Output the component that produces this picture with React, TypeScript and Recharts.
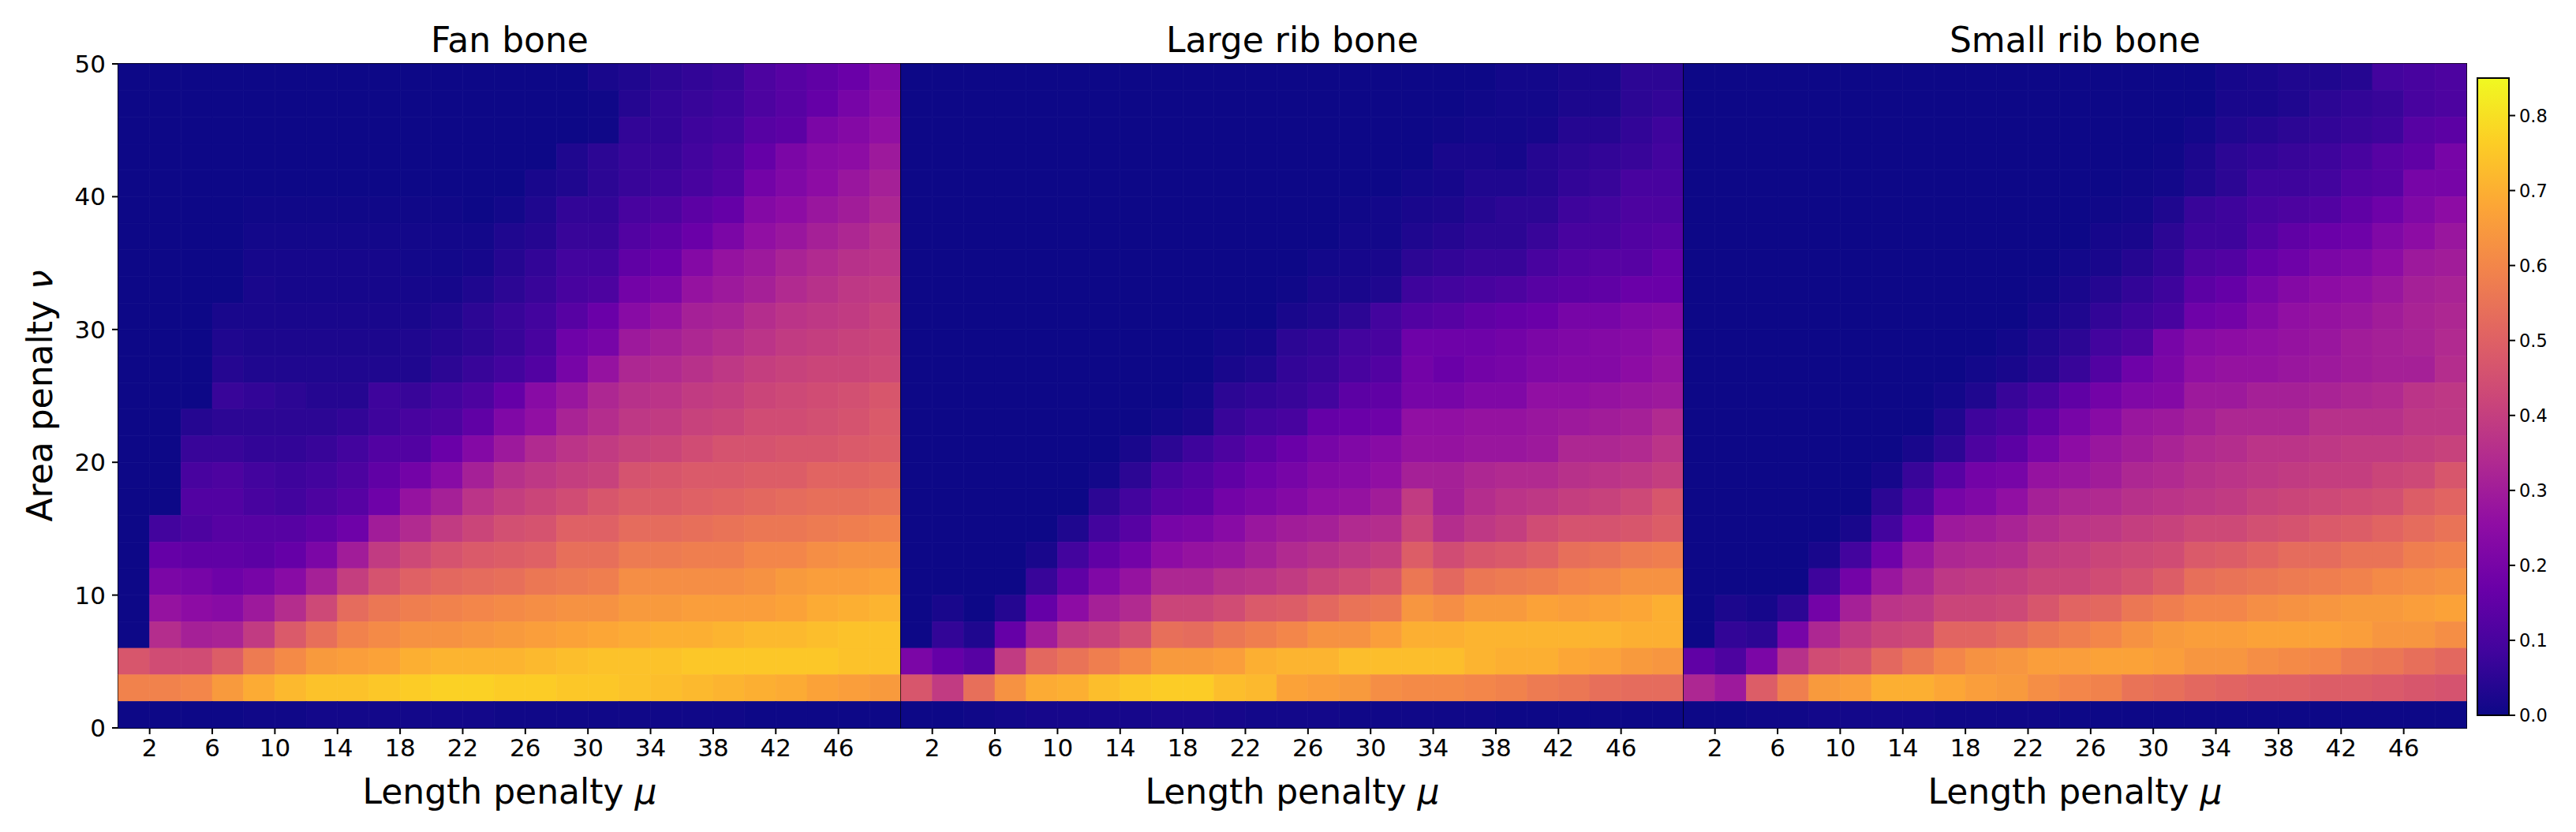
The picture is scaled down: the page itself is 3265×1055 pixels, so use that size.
import { Bar, BarChart, Label, ReferenceArea, Scatter, ScatterChart, XAxis, YAxis } from "recharts";

// rows run from the top of the plot (nu 48-50) down to the bottom (nu 0-2), 25 cells per row
const fanBone = [
  [0,0,0,0,0,0,0,0,0,0,0,0,0,0,0,.02,.03,.05,.06,.07,.11,.13,.15,.17,.22],
  [0,0,0,0,0,0,0,0,0,0,0,0,0,0,0,.005,.04,.06,.07,.08,.11,.13,.16,.2,.24],
  [0,0,0,0,0,0,0,0,0,0,0,0,0,0,0,.005,.06,.06,.08,.09,.13,.14,.21,.23,.26],
  [0,0,0,0,0,0,0,0,0,0,0,0,0,0,.03,.05,.07,.07,.09,.11,.16,.21,.24,.25,.29],
  [0,0,0,0,0,0,0,0,0,0,0,0,0,.02,.03,.05,.07,.08,.1,.12,.19,.22,.25,.28,.31],
  [0,0,0,0,.005,.005,.005,.005,.005,.005,.005,0,.01,.03,.06,.06,.1,.11,.14,.16,.23,.25,.28,.3,.33],
  [0,0,0,0,.01,.01,.01,.01,.01,.01,.01,.01,.03,.04,.07,.07,.12,.14,.17,.21,.26,.28,.31,.33,.36],
  [0,0,0,0,.015,.015,.015,.015,.015,.01,.01,.015,.04,.06,.09,.09,.15,.17,.23,.27,.29,.32,.34,.36,.37],
  [0,0,0,0,.02,.015,.015,.015,.015,.015,.015,.03,.05,.07,.1,.11,.19,.21,.27,.29,.31,.34,.36,.38,.39],
  [0,0,0,.02,.02,.02,.02,.02,.02,.02,.03,.05,.07,.09,.13,.17,.24,.27,.31,.32,.35,.37,.38,.39,.41],
  [0,0,0,.03,.025,.025,.025,.025,.025,.03,.04,.05,.07,.1,.18,.2,.29,.31,.33,.35,.37,.39,.4,.41,.42],
  [0,0,0,.04,.03,.03,.03,.03,.03,.03,.05,.07,.09,.12,.2,.27,.33,.34,.36,.38,.4,.41,.42,.42,.43],
  [0,0,0,.07,.06,.05,.04,.04,.08,.07,.09,.11,.16,.24,.28,.33,.36,.37,.39,.4,.42,.43,.44,.45,.47],
  [0,0,.04,.05,.05,.05,.05,.06,.08,.1,.11,.15,.22,.26,.32,.35,.38,.39,.41,.42,.44,.44,.45,.46,.48],
  [0,0,.07,.07,.06,.06,.07,.09,.12,.12,.17,.23,.29,.34,.37,.39,.41,.42,.44,.46,.46,.47,.47,.48,.49],
  [0,0,.1,.11,.09,.08,.09,.11,.15,.19,.24,.31,.36,.38,.4,.41,.46,.47,.48,.48,.49,.49,.51,.51,.52],
  [0,0,.12,.12,.1,.09,.11,.13,.18,.27,.31,.37,.4,.42,.44,.47,.49,.49,.5,.51,.52,.53,.54,.54,.55],
  [0,.09,.11,.13,.13,.13,.15,.18,.3,.34,.39,.42,.45,.46,.5,.5,.53,.53,.54,.55,.56,.56,.57,.58,.59],
  [0,.16,.15,.15,.14,.16,.21,.3,.39,.43,.46,.48,.49,.5,.54,.54,.57,.57,.58,.58,.6,.6,.62,.63,.63],
  [0,.21,.2,.18,.2,.24,.31,.4,.46,.5,.52,.53,.54,.56,.57,.58,.62,.62,.62,.62,.63,.65,.66,.66,.67],
  [0,.27,.25,.24,.29,.35,.43,.53,.56,.58,.59,.6,.61,.62,.63,.63,.65,.65,.66,.66,.66,.67,.69,.7,.71],
  [0,.35,.31,.32,.39,.48,.54,.59,.61,.63,.63,.64,.65,.66,.67,.68,.69,.7,.7,.71,.72,.72,.73,.74,.74],
  [.47,.44,.44,.49,.57,.61,.65,.66,.67,.7,.71,.71,.71,.72,.73,.74,.74,.74,.75,.75,.75,.75,.75,.74,.74],
  [.59,.59,.6,.65,.69,.72,.74,.74,.75,.76,.77,.77,.76,.76,.75,.75,.74,.73,.72,.71,.7,.69,.67,.66,.65],
  [0,0,0,0,.005,.005,.01,.01,.01,.01,.01,.01,.005,.005,.005,.005,.005,.005,.005,.005,0,0,0,0,0],
];

const largeRibBone = [
  [0,0,0,0,0,0,0,0,0,0,0,0,0,0,0,0,0,0,0,.01,.01,.02,.02,.05,.05],
  [0,0,0,0,0,0,0,0,0,0,0,0,0,0,0,0,0,0,.005,.01,.01,.025,.025,.05,.06],
  [0,0,0,0,0,0,0,0,0,0,0,0,0,0,0,0,0,.005,.01,.01,.015,.04,.04,.06,.08],
  [0,0,0,0,0,0,0,0,0,0,0,0,0,0,0,0,0,.02,.02,.015,.04,.05,.06,.07,.09],
  [0,0,0,0,0,0,0,0,0,0,0,0,0,0,0,0,.01,.015,.03,.03,.04,.06,.07,.1,.1],
  [0,0,0,0,0,0,0,0,0,0,0,0,0,0,.005,.01,.02,.025,.04,.05,.05,.08,.09,.11,.11],
  [0,0,0,0,0,0,0,0,0,0,0,0,0,0,.01,.01,.03,.04,.05,.05,.07,.1,.1,.12,.13],
  [0,0,0,0,0,0,0,0,0,0,0,0,0,.01,.015,.02,.05,.06,.07,.07,.1,.12,.13,.13,.16],
  [0,0,0,0,0,0,0,0,0,0,0,0,.005,.02,.02,.03,.08,.09,.1,.11,.13,.14,.15,.17,.17],
  [0,0,0,0,0,0,0,0,0,0,0,0,.02,.03,.05,.09,.12,.13,.15,.16,.17,.2,.2,.22,.23],
  [0,0,0,0,0,0,0,0,0,0,.01,.015,.05,.06,.09,.1,.18,.18,.18,.19,.21,.22,.23,.24,.26],
  [0,0,0,0,0,0,0,0,0,0,.02,.03,.06,.07,.1,.12,.19,.17,.19,.2,.22,.23,.23,.25,.27],
  [0,0,0,0,0,0,0,0,0,.01,.05,.06,.07,.09,.14,.15,.2,.2,.22,.22,.26,.26,.27,.28,.29],
  [0,0,0,0,0,0,0,0,.01,.02,.07,.09,.1,.16,.17,.18,.26,.26,.27,.27,.28,.29,.3,.31,.34],
  [0,0,0,0,0,0,0,.02,.05,.08,.11,.14,.17,.2,.22,.24,.27,.27,.28,.28,.29,.33,.33,.34,.37],
  [0,0,0,0,0,0,.01,.05,.1,.12,.15,.18,.2,.23,.24,.26,.31,.31,.33,.34,.34,.36,.37,.38,.4],
  [0,0,0,0,0,0,.05,.09,.13,.14,.19,.21,.23,.26,.27,.3,.39,.31,.35,.37,.38,.4,.41,.43,.47],
  [0,0,0,0,0,.03,.09,.13,.2,.21,.24,.28,.3,.31,.34,.35,.42,.35,.38,.4,.44,.46,.46,.47,.49],
  [0,0,0,0,.02,.09,.15,.19,.25,.27,.28,.31,.34,.36,.38,.4,.49,.44,.47,.48,.5,.54,.55,.57,.58],
  [0,0,0,0,.07,.15,.22,.27,.33,.33,.36,.37,.39,.42,.44,.47,.56,.52,.56,.57,.58,.6,.61,.63,.63],
  [0,.02,0,.04,.16,.25,.31,.34,.42,.42,.44,.48,.49,.52,.55,.56,.64,.62,.65,.65,.67,.66,.67,.68,.7],
  [0,.06,.03,.16,.3,.39,.41,.45,.54,.53,.56,.58,.6,.63,.63,.66,.7,.7,.71,.71,.71,.71,.71,.7,.7],
  [.21,.16,.13,.39,.52,.55,.58,.61,.65,.65,.66,.7,.71,.71,.73,.73,.73,.73,.71,.7,.7,.68,.67,.65,.64],
  [.47,.39,.54,.63,.69,.7,.73,.75,.76,.76,.73,.72,.67,.66,.65,.62,.61,.61,.6,.59,.57,.56,.54,.53,.53],
  [0,0,.005,.01,.015,.015,.015,.015,.02,.02,.015,.01,.01,.01,.005,.005,.005,.005,.005,0,0,0,0,0,0],
];

const smallRibBone = [
  [0,0,0,0,0,0,0,0,0,0,0,0,0,0,0,0,0,.015,.02,.03,.03,.04,.09,.1,.11],
  [0,0,0,0,0,0,0,0,0,0,0,0,0,0,0,0,0,.02,.02,.03,.05,.06,.07,.1,.11],
  [0,0,0,0,0,0,0,0,0,0,0,0,0,0,0,0,.01,.03,.04,.05,.06,.07,.08,.13,.14],
  [0,0,0,0,0,0,0,0,0,0,0,0,0,0,0,.005,.025,.05,.06,.07,.08,.1,.13,.15,.2],
  [0,0,0,0,0,0,0,0,0,0,0,0,0,0,.005,.01,.03,.05,.08,.08,.09,.12,.13,.2,.2],
  [0,0,0,0,0,0,0,0,0,0,0,0,0,.005,.01,.03,.07,.08,.1,.11,.12,.15,.18,.22,.25],
  [0,0,0,0,0,0,0,0,0,0,0,0,0,.015,.02,.05,.08,.08,.12,.15,.17,.18,.22,.25,.28],
  [0,0,0,0,0,0,0,0,0,0,0,0,.01,.02,.04,.06,.11,.12,.16,.18,.21,.22,.25,.29,.3],
  [0,0,0,0,0,0,0,0,0,0,0,.005,.02,.04,.06,.08,.14,.16,.2,.23,.25,.26,.28,.31,.32],
  [0,0,0,0,0,0,0,0,0,0,0,.015,.03,.06,.08,.1,.18,.19,.23,.26,.27,.28,.3,.32,.33],
  [0,0,0,0,0,0,0,0,0,0,.01,.03,.05,.09,.11,.2,.24,.25,.26,.27,.28,.3,.31,.32,.34],
  [0,0,0,0,0,0,0,0,0,.01,.02,.04,.07,.12,.18,.21,.26,.27,.27,.28,.29,.3,.31,.31,.35],
  [0,0,0,0,0,0,0,0,.01,.03,.07,.1,.15,.19,.22,.23,.29,.29,.31,.31,.32,.33,.34,.37,.38],
  [0,0,0,0,0,0,0,0,.03,.08,.1,.15,.2,.24,.28,.29,.31,.33,.33,.33,.36,.36,.36,.38,.38],
  [0,0,0,0,0,0,0,.02,.05,.11,.14,.2,.25,.28,.3,.32,.34,.35,.37,.37,.38,.39,.39,.4,.41],
  [0,0,0,0,0,0,.015,.07,.13,.19,.2,.27,.28,.3,.33,.34,.36,.37,.38,.39,.4,.4,.42,.43,.47],
  [0,0,0,0,0,0,.05,.11,.2,.22,.26,.31,.33,.34,.36,.37,.38,.39,.41,.42,.43,.44,.45,.49,.51],
  [0,0,0,0,0,.02,.09,.18,.29,.3,.32,.35,.37,.38,.4,.41,.43,.43,.45,.46,.48,.49,.51,.53,.55],
  [0,0,0,0,.02,.09,.18,.28,.33,.34,.35,.39,.4,.42,.43,.44,.48,.49,.51,.53,.53,.55,.55,.58,.59],
  [0,0,0,0,.08,.19,.28,.33,.38,.39,.4,.42,.42,.44,.46,.49,.54,.55,.56,.57,.58,.59,.61,.62,.63],
  [0,.025,.015,.05,.19,.31,.37,.38,.42,.42,.43,.47,.51,.52,.56,.58,.6,.6,.62,.63,.64,.65,.65,.66,.67],
  [0,.06,.05,.2,.33,.39,.42,.43,.51,.51,.53,.56,.58,.6,.63,.65,.66,.66,.67,.67,.67,.66,.64,.64,.62],
  [.15,.11,.21,.36,.44,.46,.52,.56,.6,.63,.64,.66,.66,.67,.67,.66,.64,.64,.62,.61,.6,.57,.56,.54,.52],
  [.33,.29,.49,.58,.65,.66,.7,.7,.68,.66,.65,.62,.6,.59,.55,.54,.52,.51,.5,.5,.49,.49,.48,.47,.46],
  [0,0,.005,.005,.01,.01,.01,.01,.005,.005,.005,.005,0,0,0,0,0,0,0,0,0,0,0,0,0],
];

const panelTitles = ["Fan bone", "Large rib bone", "Small rib bone"];
const xTicks = [2, 6, 10, 14, 18, 22, 26, 30, 34, 38, 42, 46];
const yTicks = [0, 10, 20, 30, 40, 50];
const colorbarTicks = [0, 0.1, 0.2, 0.3, 0.4, 0.5, 0.6, 0.7, 0.8];
const plasma = ["#0d0887", "#41049d", "#6a00a8", "#8f0da4", "#b12a90", "#cc4778", "#e16462", "#f2844b", "#fca636", "#fcce25", "#f0f921"];

const VMAX = 0.85;
const FONT = "DejaVu Sans";
const PLOT_W = 992;
const PLOT_H = 842;
const PLOT_TOP = 81;
const PLOT_LEFT = 150;
const PAD = 4;
const HEIGHT = 1055;

function colorFor(v: number) {
  const t = Math.min(Math.max(v / VMAX, 0), 1) * (plasma.length - 1);
  const i = Math.min(Math.floor(t), plasma.length - 2);
  const mix = (a: string, b: string, f: number) => {
    const ch = (s: string, k: number) => parseInt(s.slice(1 + k * 2, 3 + k * 2), 16);
    return [0, 1, 2].map((k) => Math.round(ch(a, k) + (ch(b, k) - ch(a, k)) * f));
  };
  const [r, g, b] = mix(plasma[i], plasma[i + 1], t - i);
  return `rgb(${r},${g},${b})`;
}

function toCells(rows: number[][]) {
  return rows.flatMap((row, r) => row.map((v, c) => ({ x: 1 + c * 2, y: 49 - r * 2, v })));
}

function HeatCell(props: any) {
  const w = PLOT_W / 25;
  const h = PLOT_H / 25;
  const fill = colorFor(props.payload.v);
  return (
    <rect
      x={props.cx - w / 2}
      y={props.cy - h / 2}
      width={w}
      height={h}
      fill={fill}
      stroke={fill}
      strokeWidth={0.6}
    />
  );
}

function XTitle(props: any) {
  const { x, width } = props.viewBox;
  return (
    <text x={x + width / 2} y={1019} textAnchor="middle" fontFamily={FONT} fontSize={44} fill="#000">
      Length penalty <tspan fontStyle="italic">μ</tspan>
    </text>
  );
}

function YTitle() {
  return (
    <text
      transform={`translate(66, ${PLOT_TOP + PLOT_H / 2}) rotate(-90)`}
      textAnchor="middle"
      fontFamily={FONT}
      fontSize={44}
      fill="#000"
    >
      Area penalty <tspan fontStyle="italic">ν</tspan>
    </text>
  );
}

const axisStyle = { stroke: "#000", strokeWidth: 2 };
const tickStyle = { fontFamily: FONT, fontSize: 31, fill: "#000" };

function Panel({ rows, index }: { rows: number[][]; index: number }) {
  const first = index === 0;
  const left = first ? 0 : PLOT_LEFT + PLOT_W * index - PAD;
  const width = first ? PLOT_LEFT + PLOT_W + PAD : PLOT_W + PAD * 2;
  return (
    <div style={{ position: "absolute", left, top: 0 }}>
      <ScatterChart
        width={width}
        height={HEIGHT}
        margin={{ top: PLOT_TOP, right: PAD, bottom: 0, left: first ? 0 : PAD }}
      >
        <XAxis
          type="number"
          dataKey="x"
          domain={[0, 50]}
          ticks={xTicks}
          interval={0}
          height={HEIGHT - PLOT_TOP - PLOT_H}
          tick={tickStyle}
          tickSize={8}
          tickMargin={6}
          axisLine={axisStyle}
          tickLine={axisStyle}
        >
          <Label content={<XTitle />} />
        </XAxis>
        <YAxis
          type="number"
          dataKey="y"
          domain={[0, 50]}
          ticks={yTicks}
          interval={0}
          hide={!first}
          width={PLOT_LEFT}
          tick={tickStyle}
          tickSize={8}
          tickMargin={8}
          axisLine={axisStyle}
          tickLine={axisStyle}
        >
          {first && <Label content={<YTitle />} />}
        </YAxis>
        <Scatter data={toCells(rows)} shape={<HeatCell />} isAnimationActive={false} />
        <ReferenceArea x1={0} x2={50} y1={0} y2={50} fill="none" stroke="#000" strokeWidth={2} />
      </ScatterChart>
      <div
        style={{
          position: "absolute",
          left: first ? PLOT_LEFT : PAD,
          width: PLOT_W,
          top: 26,
          textAlign: "center",
          fontFamily: FONT,
          fontSize: 44,
          lineHeight: "50px",
          color: "#000",
        }}
      >
        {panelTitles[index]}
      </div>
    </div>
  );
}

function Colorbar() {
  const top = 99;
  const bottom = 907;
  return (
    <div style={{ position: "absolute", left: 3136, top: 0 }}>
      <BarChart
        width={129}
        height={HEIGHT}
        data={[{ name: "scale", v: VMAX }]}
        margin={{ top, right: 0, bottom: HEIGHT - bottom, left: 4 }}
        barCategoryGap={0}
      >
        <defs>
          <linearGradient id="plasmaBar" x1="0" y1="1" x2="0" y2="0">
            {plasma.map((c, i) => (
              <stop key={c} offset={i / (plasma.length - 1)} stopColor={c} />
            ))}
          </linearGradient>
        </defs>
        <XAxis dataKey="name" hide />
        <YAxis
          orientation="right"
          type="number"
          domain={[0, VMAX]}
          ticks={colorbarTicks}
          interval={0}
          width={85}
          tick={{ fontFamily: FONT, fontSize: 22.5, fill: "#000" }}
          tickFormatter={(v: number) => v.toFixed(1)}
          tickSize={8}
          tickMargin={5}
          axisLine={false}
          tickLine={axisStyle}
        />
        <Bar dataKey="v" fill="url(#plasmaBar)" stroke="#000" strokeWidth={2} isAnimationActive={false} />
      </BarChart>
    </div>
  );
}

export default function App() {
  return (
    <div style={{ position: "absolute", left: 0, top: 0, width: 3265, height: HEIGHT, background: "#fff", overflow: "hidden" }}>
      {[fanBone, largeRibBone, smallRibBone].map((rows, i) => (
        <Panel key={panelTitles[i]} rows={rows} index={i} />
      ))}
      <Colorbar />
    </div>
  );
}
